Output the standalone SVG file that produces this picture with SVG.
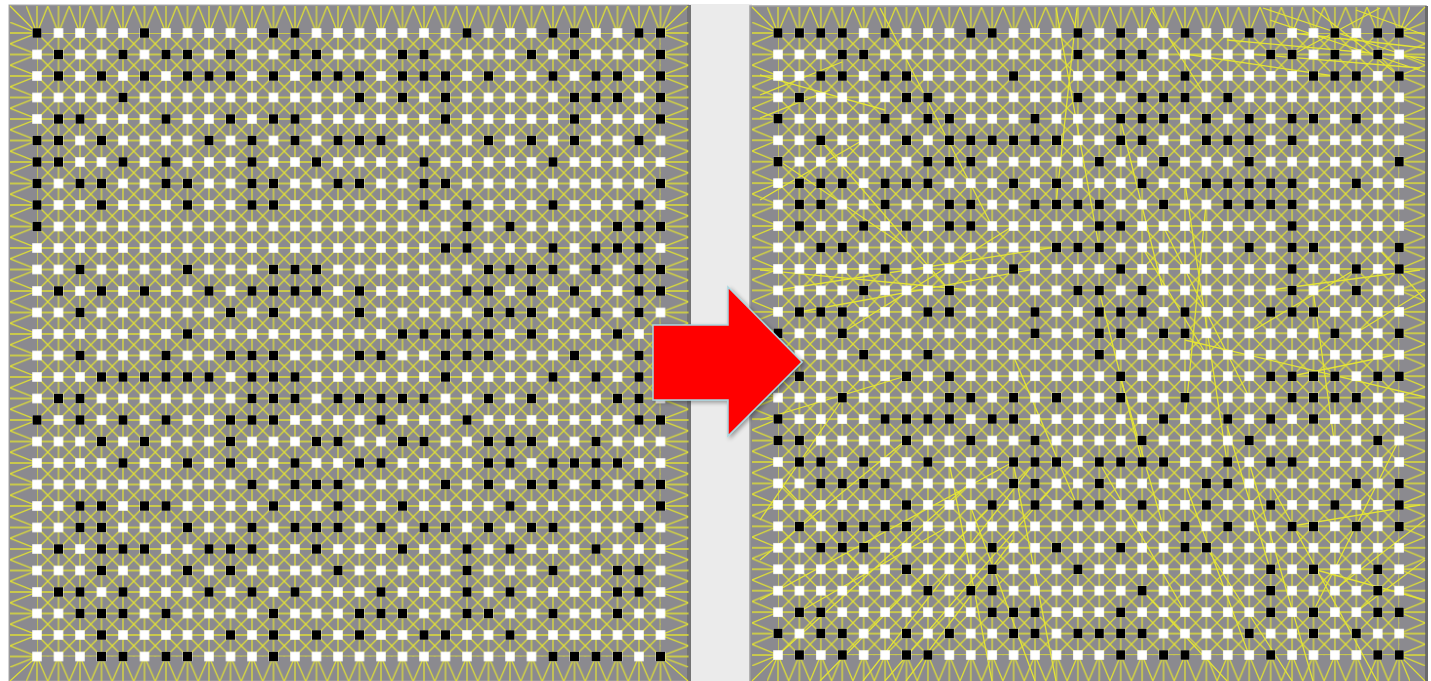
<svg xmlns="http://www.w3.org/2000/svg" width="1431" height="681" viewBox="0 0 1431 681">
<style>
.ln{stroke:#e0e034;stroke-width:1.25;fill:none}
.rw{stroke:#e4e436;stroke-width:1.3;fill:none}
.bk{stroke:#000;stroke-width:9.5;fill:none}
.panel{fill:#8b8a8f}
</style>
<defs>
<pattern id="latL" patternUnits="userSpaceOnUse" x="26.25" y="22.25" width="21.5" height="21.5"><path class="ln" d="M0 10.75H21.5M10.75 0V21.5M0 0L21.5 21.5M21.5 0L0 21.5"/></pattern>
<pattern id="nodL" patternUnits="userSpaceOnUse" x="26.25" y="22.25" width="21.5" height="21.5"><rect x="6" y="6" width="9.5" height="9.5" fill="#fff"/></pattern>
<pattern id="fTL" patternUnits="userSpaceOnUse" x="26.25" y="6" width="21.5" height="27"><path class="ln" d="M10.75 27L0 0M10.75 27V0M10.75 27L21.5 0"/></pattern>
<pattern id="fBL" patternUnits="userSpaceOnUse" x="26.25" y="656.5" width="21.5" height="25"><path class="ln" d="M10.75 0L0 25M10.75 0V25M10.75 0L21.5 25"/></pattern>
<pattern id="fLL" patternUnits="userSpaceOnUse" x="10" y="22.25" width="27" height="21.5"><path class="ln" d="M27 10.75L0 0M27 10.75H0M27 10.75L0 21.5"/></pattern>
<pattern id="fRL" patternUnits="userSpaceOnUse" x="660.5" y="22.25" width="28" height="21.5"><path class="ln" d="M0 10.75L28 0M0 10.75H28M0 10.75L28 21.5"/></pattern>
<pattern id="latR" patternUnits="userSpaceOnUse" x="767.29" y="22.275" width="21.42" height="21.45"><path class="ln" d="M0 10.725H21.42M10.71 0V21.45M0 0L21.42 21.45M21.42 0L0 21.45"/></pattern>
<pattern id="nodR" patternUnits="userSpaceOnUse" x="767.29" y="22.275" width="21.42" height="21.45"><rect x="5.96" y="5.975" width="9.5" height="9.5" fill="#fff"/></pattern>
<pattern id="fTR" patternUnits="userSpaceOnUse" x="767.29" y="7" width="21.42" height="26"><path class="ln" d="M10.71 26L0 0M10.71 26V0M10.71 26L21.42 0"/></pattern>
<pattern id="fBR" patternUnits="userSpaceOnUse" x="767.29" y="655.1" width="21.42" height="26"><path class="ln" d="M10.71 0L0 26M10.71 0V26M10.71 0L21.42 26"/></pattern>
<pattern id="fLR" patternUnits="userSpaceOnUse" x="752" y="22.275" width="26" height="21.45"><path class="ln" d="M26 10.725L0 0M26 10.725H0M26 10.725L0 21.45"/></pattern>
<pattern id="fRR" patternUnits="userSpaceOnUse" x="1399.2" y="22.275" width="26" height="21.45"><path class="ln" d="M0 10.725L26 0M0 10.725H26M0 10.725L26 21.45"/></pattern>
<filter id="sh" x="-10%" y="-10%" width="130%" height="130%"><feGaussianBlur in="SourceAlpha" stdDeviation="2"/><feOffset dx="2" dy="2"/><feComponentTransfer><feFuncA type="linear" slope="0.35"/></feComponentTransfer><feMerge><feMergeNode/><feMergeNode in="SourceGraphic"/></feMerge></filter>
</defs>
<rect width="1431" height="681" fill="#fff"/>
<rect x="690" y="4" width="62" height="677" fill="#ebebeb"/>
<g id="left-panel">
<rect class="panel" x="9" y="5" width="680" height="676" stroke="#a5a5a5" stroke-width="1"/>
<rect x="687" y="5" width="4" height="676" fill="#747474"/>
<g id="lattice-left">
<rect x="37" y="33" width="623.5" height="623.5" fill="url(#latL)"/>
<rect x="26.25" y="6" width="645" height="27" fill="url(#fTL)"/>
<rect x="26.25" y="656.5" width="645" height="25" fill="url(#fBL)"/>
<rect x="10" y="22.25" width="27" height="645" fill="url(#fLL)"/>
<rect x="660.5" y="22.25" width="28" height="645" fill="url(#fRL)"/>
<path class="ln" d="M37 33L10 6M660.5 33L688 6M37 656.5L10 681M660.5 656.5L688 681"/>
</g>
<rect id="nodes-left" x="26.25" y="22.25" width="645" height="645" fill="url(#nodL)"/>
<g id="black-left" class="bk">
<path transform="translate(0,33)" d="M32.5 0h9M140 0h9M269 0h9M290.5 0h9M462.5 0h9M548.5 0h9M570 0h9M634.5 0h9M656 0h9"/>
<path transform="translate(0,54.5)" d="M54 0h9M118.5 0h9M161.5 0h9M183 0h9M226 0h9M290.5 0h9M312 0h9M398 0h9M419.5 0h9M527 0h9M570 0h9M656 0h9"/>
<path transform="translate(0,76)" d="M54 0h9M97 0h9M140 0h9M183 0h9M204.5 0h9M226 0h9M269 0h9M312 0h9M333.5 0h9M355 0h9M398 0h9M419.5 0h9M441 0h9M484 0h9M548.5 0h9M591.5 0h9M613 0h9M656 0h9"/>
<path transform="translate(0,97.5)" d="M118.5 0h9M355 0h9M398 0h9M441 0h9M570 0h9M591.5 0h9M613 0h9M656 0h9"/>
<path transform="translate(0,119)" d="M54 0h9M75.5 0h9M161.5 0h9M226 0h9M269 0h9M290.5 0h9M441 0h9M570 0h9M656 0h9"/>
<path transform="translate(0,140.5)" d="M32.5 0h9M54 0h9M97 0h9M204.5 0h9M247.5 0h9M290.5 0h9M333.5 0h9M355 0h9M376.5 0h9M484 0h9M527 0h9M570 0h9M634.5 0h9"/>
<path transform="translate(0,162)" d="M32.5 0h9M54 0h9M118.5 0h9M161.5 0h9M247.5 0h9M312 0h9M419.5 0h9M548.5 0h9"/>
<path transform="translate(0,183.5)" d="M32.5 0h9M75.5 0h9M97 0h9M161.5 0h9M183 0h9M247.5 0h9M269 0h9M333.5 0h9M355 0h9M419.5 0h9M441 0h9M656 0h9"/>
<path transform="translate(0,205)" d="M32.5 0h9M97 0h9M183 0h9M247.5 0h9M269 0h9M419.5 0h9M462.5 0h9M548.5 0h9M634.5 0h9"/>
<path transform="translate(0,226.5)" d="M32.5 0h9M462.5 0h9M505.5 0h9M613 0h9M634.5 0h9M656 0h9"/>
<path transform="translate(0,248)" d="M441 0h9M462.5 0h9M548.5 0h9M591.5 0h9M613 0h9M634.5 0h9"/>
<path transform="translate(0,269.5)" d="M75.5 0h9M183 0h9M269 0h9M290.5 0h9M312 0h9M484 0h9M505.5 0h9M527 0h9M548.5 0h9M591.5 0h9M634.5 0h9M656 0h9"/>
<path transform="translate(0,291)" d="M54 0h9M97 0h9M140 0h9M204.5 0h9M247.5 0h9M269 0h9M290.5 0h9M312 0h9M355 0h9M462.5 0h9M484 0h9M527 0h9M570 0h9M634.5 0h9M656 0h9"/>
<path transform="translate(0,312.5)" d="M75.5 0h9M226 0h9M269 0h9M355 0h9M484 0h9M505.5 0h9M527 0h9M591.5 0h9M634.5 0h9"/>
<path transform="translate(0,334)" d="M183 0h9M398 0h9M419.5 0h9M441 0h9M462.5 0h9M484 0h9M527 0h9M613 0h9"/>
<path transform="translate(0,355.5)" d="M75.5 0h9M161.5 0h9M226 0h9M247.5 0h9M269 0h9M355 0h9M376.5 0h9M441 0h9M462.5 0h9M484 0h9M570 0h9M634.5 0h9"/>
<path transform="translate(0,377)" d="M97 0h9M118.5 0h9M140 0h9M161.5 0h9M183 0h9M204.5 0h9M247.5 0h9M269 0h9M290.5 0h9M441 0h9M548.5 0h9M591.5 0h9M634.5 0h9"/>
<path transform="translate(0,398.5)" d="M54 0h9M75.5 0h9M247.5 0h9M269 0h9M290.5 0h9M333.5 0h9M355 0h9M376.5 0h9M398 0h9M419.5 0h9M484 0h9M527 0h9M613 0h9M634.5 0h9"/>
<path transform="translate(0,420)" d="M32.5 0h9M75.5 0h9M118.5 0h9M161.5 0h9M226 0h9M247.5 0h9M269 0h9M376.5 0h9M462.5 0h9M634.5 0h9M656 0h9"/>
<path transform="translate(0,441.5)" d="M97 0h9M140 0h9M226 0h9M312 0h9M333.5 0h9M398 0h9M419.5 0h9M484 0h9M505.5 0h9M527 0h9M591.5 0h9"/>
<path transform="translate(0,463)" d="M118.5 0h9M183 0h9M226 0h9M290.5 0h9M355 0h9M376.5 0h9M484 0h9M505.5 0h9M548.5 0h9M570 0h9M591.5 0h9M613 0h9"/>
<path transform="translate(0,484.5)" d="M247.5 0h9M290.5 0h9M312 0h9M333.5 0h9M441 0h9M484 0h9M527 0h9M548.5 0h9M591.5 0h9M634.5 0h9M656 0h9"/>
<path transform="translate(0,506)" d="M75.5 0h9M97 0h9M140 0h9M161.5 0h9M269 0h9M333.5 0h9M398 0h9M505.5 0h9M656 0h9"/>
<path transform="translate(0,527.5)" d="M75.5 0h9M97 0h9M183 0h9M247.5 0h9M290.5 0h9M312 0h9M333.5 0h9M376.5 0h9M419.5 0h9M441 0h9M484 0h9M527 0h9M548.5 0h9M634.5 0h9"/>
<path transform="translate(0,549)" d="M54 0h9M97 0h9M118.5 0h9M140 0h9M204.5 0h9M226 0h9M247.5 0h9M312 0h9M398 0h9M462.5 0h9M505.5 0h9M591.5 0h9"/>
<path transform="translate(0,570.5)" d="M97 0h9M183 0h9M226 0h9M333.5 0h9M462.5 0h9M548.5 0h9M613 0h9M634.5 0h9"/>
<path transform="translate(0,592)" d="M54 0h9M75.5 0h9M118.5 0h9M204.5 0h9M247.5 0h9M290.5 0h9M376.5 0h9M462.5 0h9M505.5 0h9M613 0h9M634.5 0h9"/>
<path transform="translate(0,613.5)" d="M75.5 0h9M97 0h9M118.5 0h9M161.5 0h9M269 0h9M355 0h9M376.5 0h9M398 0h9M462.5 0h9M484 0h9M548.5 0h9M613 0h9"/>
<path transform="translate(0,635)" d="M97 0h9M226 0h9M269 0h9M312 0h9M355 0h9M419.5 0h9M441 0h9M505.5 0h9"/>
<path transform="translate(0,656.5)" d="M97 0h9M118.5 0h9M161.5 0h9M183 0h9M269 0h9M548.5 0h9M570 0h9M591.5 0h9M613 0h9M656 0h9"/>
</g>
</g>
<g id="right-panel">
<rect class="panel" x="750" y="6" width="676" height="676" stroke="#a0a0a0" stroke-width="1.5"/>
<rect x="1425" y="6" width="3" height="675" fill="#6a6a6a"/>
<g id="lattice-right">
<rect x="778" y="33" width="621.2" height="622.1" fill="url(#latR)"/>
<rect x="767.29" y="7" width="642.6" height="26" fill="url(#fTR)"/>
<rect x="767.29" y="655.1" width="642.6" height="26" fill="url(#fBR)"/>
<rect x="752" y="22.275" width="26" height="643.5" fill="url(#fLR)"/>
<rect x="1399.2" y="22.275" width="26" height="643.5" fill="url(#fRR)"/>
<path class="ln" d="M778 33L752 7M1399.2 33L1425 7M778 655.1L752 681M1399.2 655.1L1425 681"/>
</g>
<g id="rewired-links" class="rw">
<path d="M1263 8L1425 62M1292 33L1425 48M1249 54L1420 68M1313 8L1399 76M1227 40L1425 58M1356 10L1425 35M1185 54L1334 76M1380 8L1292 55M1270 20L1425 72"/>
<path d="M1056 8L1099 247M1077 8L1056 204M880 8L992 226M1150 8L1206 97M760 75L885 110M760 95L842 62M778 160L906 247M820 140L949 290M760 200L863 140M1120 118L1163 290M760 118L830 90"/>
<path d="M778 290L1056 247M799 312L1035 269M760 270L970 290M842 333L1013 226M1185 183L1227 462M1206 204L1185 420M1163 226L1249 397M1142 247L1206 354M1099 290L1142 462M1013 355L1077 505M1270 290L1420 270M1249 333L1356 269"/>
<path d="M760 600L1013 462M778 655L970 483M820 681L992 505M863 681L1035 462M760 560L906 440M760 520L842 400M885 681L1056 483M799 612L949 526M906 681L1013 540M949 462L992 681M970 505L1035 681M1013 462L1056 681M760 420L906 376M778 480L863 570"/>
<path d="M1249 462L1313 681M1270 483L1377 681M1292 526L1420 505M1206 547L1292 681M1334 590L1425 520M1356 612L1425 560M1185 483L1249 655M1142 590L1227 681M1399 440L1313 612M1313 569L1425 600M1099 462L1185 612M1227 426L1270 569"/>
<path d="M1377 247L1425 300M1356 333L1425 290M1292 376L1399 354M1120 376L1163 526M1313 290L1334 440M1185 340L1425 397"/>
</g>
<rect id="nodes-right" x="767.29" y="22.275" width="642.6" height="643.5" fill="url(#nodR)"/>
<g id="black-right" class="bk">
<path transform="translate(0,33)" d="M773.5 0h9M794.9 0h9M816.3 0h9M837.8 0h9M880.6 0h9M966.3 0h9M987.7 0h9M1073.4 0h9M1116.2 0h9M1180.5 0h9M1244.7 0h9M1266.2 0h9M1330.4 0h9M1373.3 0h9M1394.7 0h9"/>
<path transform="translate(0,54.5)" d="M837.8 0h9M859.2 0h9M1073.4 0h9M1116.2 0h9M1137.6 0h9M1266.2 0h9M1287.6 0h9M1330.4 0h9M1373.3 0h9"/>
<path transform="translate(0,75.9)" d="M816.3 0h9M837.8 0h9M880.6 0h9M902 0h9M1009.1 0h9M1116.2 0h9M1180.5 0h9M1309 0h9M1330.4 0h9M1351.8 0h9M1394.7 0h9"/>
<path transform="translate(0,97.4)" d="M794.9 0h9M902 0h9M923.4 0h9M1073.4 0h9M1137.6 0h9M1159.1 0h9M1180.5 0h9M1223.3 0h9"/>
<path transform="translate(0,118.8)" d="M773.5 0h9M880.6 0h9M923.4 0h9M944.9 0h9M1030.5 0h9M1116.2 0h9M1137.6 0h9M1159.1 0h9M1201.9 0h9M1244.7 0h9M1287.6 0h9M1309 0h9M1351.8 0h9"/>
<path transform="translate(0,140.3)" d="M816.3 0h9M902 0h9M944.9 0h9M966.3 0h9M987.7 0h9M1009.1 0h9M1030.5 0h9M1052 0h9M1116.2 0h9M1137.6 0h9M1201.9 0h9M1223.3 0h9M1244.7 0h9M1287.6 0h9"/>
<path transform="translate(0,161.7)" d="M773.5 0h9M923.4 0h9M944.9 0h9M966.3 0h9M1094.8 0h9M1159.1 0h9M1244.7 0h9M1394.7 0h9"/>
<path transform="translate(0,183.2)" d="M794.9 0h9M816.3 0h9M837.8 0h9M880.6 0h9M902 0h9M923.4 0h9M1009.1 0h9M1052 0h9M1137.6 0h9M1201.9 0h9M1223.3 0h9M1244.7 0h9M1266.2 0h9M1287.6 0h9M1351.8 0h9"/>
<path transform="translate(0,204.6)" d="M794.9 0h9M816.3 0h9M880.6 0h9M944.9 0h9M966.3 0h9M1030.5 0h9M1052 0h9M1073.4 0h9M1094.8 0h9M1159.1 0h9M1223.3 0h9M1244.7 0h9M1266.2 0h9M1287.6 0h9"/>
<path transform="translate(0,226.1)" d="M794.9 0h9M859.2 0h9M902 0h9M944.9 0h9M966.3 0h9M1094.8 0h9M1116.2 0h9M1287.6 0h9"/>
<path transform="translate(0,247.5)" d="M816.3 0h9M837.8 0h9M1052 0h9M1073.4 0h9M1094.8 0h9M1244.7 0h9M1287.6 0h9M1309 0h9M1394.7 0h9"/>
<path transform="translate(0,269)" d="M880.6 0h9M1009.1 0h9M1116.2 0h9M1287.6 0h9M1351.8 0h9M1394.7 0h9"/>
<path transform="translate(0,290.4)" d="M859.2 0h9M944.9 0h9M1073.4 0h9M1094.8 0h9M1137.6 0h9M1287.6 0h9M1351.8 0h9"/>
<path transform="translate(0,311.9)" d="M794.9 0h9M816.3 0h9M837.8 0h9M923.4 0h9M944.9 0h9M1030.5 0h9M1094.8 0h9M1116.2 0h9M1137.6 0h9M1180.5 0h9M1266.2 0h9M1287.6 0h9M1309 0h9"/>
<path transform="translate(0,333.3)" d="M773.5 0h9M837.8 0h9M1030.5 0h9M1094.8 0h9M1116.2 0h9M1159.1 0h9M1180.5 0h9M1330.4 0h9M1394.7 0h9"/>
<path transform="translate(0,354.8)" d="M859.2 0h9M923.4 0h9M1094.8 0h9"/>
<path transform="translate(0,376.2)" d="M794.9 0h9M902 0h9M944.9 0h9M1116.2 0h9M1266.2 0h9M1287.6 0h9M1309 0h9M1330.4 0h9M1373.3 0h9M1394.7 0h9"/>
<path transform="translate(0,397.7)" d="M837.8 0h9M944.9 0h9M966.3 0h9M1009.1 0h9M1052 0h9M1116.2 0h9M1180.5 0h9M1287.6 0h9M1309 0h9M1330.4 0h9M1351.8 0h9"/>
<path transform="translate(0,419.1)" d="M773.5 0h9M880.6 0h9M902 0h9M923.4 0h9M944.9 0h9M987.7 0h9M1009.1 0h9M1159.1 0h9M1223.3 0h9M1266.2 0h9M1309 0h9"/>
<path transform="translate(0,440.6)" d="M773.5 0h9M794.9 0h9M902 0h9M966.3 0h9M1030.5 0h9M1137.6 0h9M1244.7 0h9M1373.3 0h9"/>
<path transform="translate(0,462)" d="M794.9 0h9M816.3 0h9M859.2 0h9M923.4 0h9M1009.1 0h9M1030.5 0h9M1052 0h9M1094.8 0h9M1116.2 0h9M1137.6 0h9M1159.1 0h9M1223.3 0h9M1266.2 0h9M1287.6 0h9"/>
<path transform="translate(0,483.5)" d="M816.3 0h9M837.8 0h9M859.2 0h9M880.6 0h9M1009.1 0h9M1030.5 0h9M1094.8 0h9M1201.9 0h9M1223.3 0h9M1351.8 0h9M1394.7 0h9"/>
<path transform="translate(0,504.9)" d="M902 0h9M987.7 0h9M1030.5 0h9M1073.4 0h9M1094.8 0h9M1137.6 0h9M1201.9 0h9M1266.2 0h9M1330.4 0h9M1394.7 0h9"/>
<path transform="translate(0,526.4)" d="M794.9 0h9M837.8 0h9M859.2 0h9M880.6 0h9M902 0h9M1180.5 0h9M1223.3 0h9M1287.6 0h9M1309 0h9M1351.8 0h9M1394.7 0h9"/>
<path transform="translate(0,547.8)" d="M816.3 0h9M837.8 0h9M859.2 0h9M987.7 0h9M1052 0h9M1116.2 0h9M1180.5 0h9M1201.9 0h9"/>
<path transform="translate(0,569.3)" d="M902 0h9M987.7 0h9M1073.4 0h9M1266.2 0h9M1309 0h9M1373.3 0h9"/>
<path transform="translate(0,590.7)" d="M923.4 0h9M966.3 0h9M987.7 0h9M1137.6 0h9M1266.2 0h9M1373.3 0h9"/>
<path transform="translate(0,612.2)" d="M794.9 0h9M816.3 0h9M987.7 0h9M1009.1 0h9M1030.5 0h9M1116.2 0h9M1266.2 0h9M1309 0h9M1373.3 0h9M1394.7 0h9"/>
<path transform="translate(0,633.6)" d="M773.5 0h9M816.3 0h9M837.8 0h9M902 0h9M944.9 0h9M1009.1 0h9M1030.5 0h9M1073.4 0h9M1094.8 0h9M1116.2 0h9M1137.6 0h9M1244.7 0h9M1309 0h9M1351.8 0h9"/>
<path transform="translate(0,655.1)" d="M794.9 0h9M837.8 0h9M902 0h9M923.4 0h9M1116.2 0h9M1159.1 0h9M1180.5 0h9M1266.2 0h9M1373.3 0h9M1394.7 0h9"/>
</g>
</g>
<g id="arrow">
<polygon points="653,325 728,325 728,287 802,362 728,436 728,400 653,400" fill="#ff0000" stroke="#a9d6df" stroke-width="1.5" stroke-linejoin="miter" filter="url(#sh)"/>
</g>
</svg>
